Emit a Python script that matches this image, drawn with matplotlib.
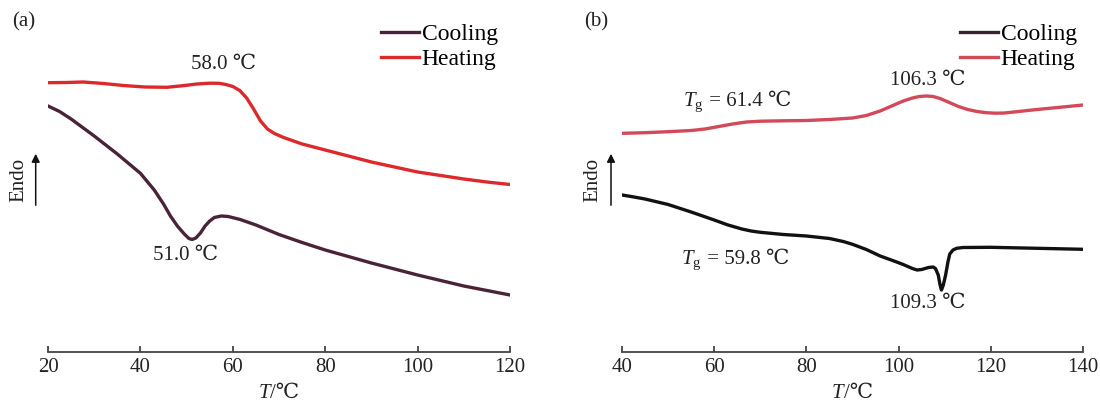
import matplotlib
matplotlib.use("Agg")
import matplotlib.pyplot as plt
from matplotlib.patches import FancyArrowPatch
from matplotlib.offsetbox import TextArea, HPacker, AnnotationBbox

plt.rcParams["font.family"] = ["Liberation Serif", "DejaVu Serif"]
plt.rcParams["mathtext.fontset"] = "custom"
plt.rcParams["mathtext.rm"] = "Liberation Serif"
plt.rcParams["mathtext.it"] = "Liberation Serif:italic"

# ---- (a) ----
a_heat_T = [20, 24, 27.6, 32, 36.3, 41, 45.7, 49, 52.2, 55, 57, 58.5, 60, 61.5,
            63, 64.5, 66, 67.5, 69, 71, 75, 80, 85, 90, 95, 100, 105, 110,
            115, 120]
a_heat_y = [317.3, 317.5, 318, 316.5, 314.5, 313, 312.7, 314.2, 316, 316.8,
            316.7, 315.5, 313.5, 309.5, 302, 291, 279, 271, 266.5, 262.5, 256,
            250, 244, 238, 233, 228, 224.5, 221, 218, 215.5]
a_cool_T = [20, 22.5, 25, 30, 35, 40, 43, 45, 46.5, 48, 49.5, 50.5, 51.2, 52,
            53, 54, 55, 56, 57.5, 59, 61.6, 65, 70, 75, 80, 85, 90, 95, 100,
            105, 110, 115, 120]
a_cool_y = [294, 288.5, 281, 264, 246, 226.7, 210, 196, 184, 174, 166, 161.5,
            160.5, 162, 167, 174, 179, 182.5, 184, 183.5, 180.5, 175, 165.5,
            157.5, 150, 143.5, 137, 131, 125, 119.5, 114, 109.5, 105]

# ---- (b) ----
b_heat_T = [40, 45, 50, 55, 58, 61, 64, 67, 70, 75, 80, 85, 90, 93, 96, 99,
            101, 103, 104.5, 106, 107.5, 109, 111, 113, 115, 117, 119, 121,
            123, 126, 130, 135, 140]
b_heat_y = [266.7, 267.3, 268.3, 269.5, 271, 273.5, 276, 278, 278.8, 279.2,
            279.5, 280.5, 282, 284.5, 289, 295, 299, 302, 303.5, 304, 303.5,
            301.5, 297.5, 293.5, 290.5, 288.5, 287.3, 286.8, 287, 288.5, 290.5,
            292.7, 295]
b_cool_T = [40, 42, 45, 50, 55, 60, 63, 66, 68, 70, 75, 80, 85, 88, 90, 93, 96,
            99, 101, 103, 104, 105, 106.5, 107.5, 108, 108.6, 109, 109.3,
            109.7, 110.2, 110.7, 111.1, 111.8, 112.6, 114, 120, 130, 140]
b_cool_y = [205, 203.5, 201, 195.5, 188, 180, 175, 171, 169, 167.7, 165.5, 164,
            161.5, 158.5, 155.7, 150.5, 144, 139, 135.5, 131.5, 130, 130.5,
            132.5, 133, 131.5, 125, 115, 110, 115, 125, 138, 146, 150, 151.7,
            152.5, 152.7, 151.7, 150.7]

xticks_a = [20, 40, 60, 80, 100, 120]
xticks_b = [40, 60, 80, 100, 120, 140]

TXT = "#222"
fig = plt.figure(figsize=(11, 4.01), dpi=100)
ax_a = fig.add_axes([48 / 1100, 1 - 352 / 401, 462 / 1100, 342 / 401])
ax_b = fig.add_axes([622 / 1100, 1 - 352 / 401, 461 / 1100, 342 / 401])


def mixed(ax, xy, parts, coords="data", size=15):
    # parts: list of (text, style); mathtext only in parts without ℃
    boxes = [TextArea(t, textprops=dict(fontsize=size, color=TXT, fontstyle=st))
             for t, st in parts]
    pack = HPacker(children=boxes, align="baseline", pad=0, sep=0)
    ab = AnnotationBbox(pack, xy, xycoords=coords, frameon=False,
                        box_alignment=(0.5, 0.5), pad=0)
    ax.add_artist(ab)


def style(ax, xlim, ticks):
    ax.set_xlim(*xlim)
    ax.set_ylim(48, 390)
    for s in ("top", "right", "left"):
        ax.spines[s].set_visible(False)
    ax.spines["bottom"].set_color("#444")
    ax.spines["bottom"].set_linewidth(1.3)
    ax.set_xticks(ticks)
    ax.set_yticks([])
    ax.tick_params(axis="x", direction="in", length=4, width=1.3, color="#444",
                   labelsize=15, pad=4, labelcolor=TXT)
    mixed(ax, (0.5, -41 / 342), [("T", "italic"), ("/℃", "normal")],
          coords="axes fraction")
    ax.patch.set_alpha(0)


def legend(ax, xr):
    ax.legend(loc="upper right", bbox_to_anchor=(xr, 0.995), frameon=False,
              fontsize=17, handlelength=1.6, handletextpad=0.12,
              labelspacing=0.15, borderaxespad=0.1)


ann = dict(ha="center", va="center", fontsize=15, color=TXT)

# (a)
ax_a.plot(a_cool_T, a_cool_y, color="#4a2338", lw=2.4, label="Cooling")
ax_a.plot(a_heat_T, a_heat_y, color="#dc2a2c", lw=2.4, label="Heating")
style(ax_a, (20, 120), xticks_a)
ax_a.text(58.1, 336, "58.0 ℃", **ann)
ax_a.text(49.7, 145, "51.0 ℃", **ann)
legend(ax_a, 0.999)

# (b)
ax_b.plot(b_cool_T, b_cool_y, color="#111111", lw=2.4)
ax_b.plot(b_heat_T, b_heat_y, color="#d24a5a", lw=2.4)
ax_b.plot([], [], color="#3a2030", lw=2.4, label="Cooling")
ax_b.plot([], [], color="#d24a5a", lw=2.4, label="Heating")
style(ax_b, (40, 140), xticks_b)
mixed(ax_b, (65, 298), [("$T_\\mathrm{g}$", "normal"), (" = 61.4 ℃", "normal")])
ax_b.text(106.4, 320, "106.3 ℃", **ann)
mixed(ax_b, (64.5, 140), [("$T_\\mathrm{g}$", "normal"), (" = 59.8 ℃", "normal")])
ax_b.text(106.4, 97, "109.3 ℃", **ann)
legend(ax_b, 1.012)

# Endo labels + arrows, panel letters
for tx, arx in [(18.5, 35.7), (593, 611)]:
    fig.text(tx / 1100, 1 - 180 / 401, "Endo", rotation=90, ha="center",
             va="center", fontsize=15, color=TXT)
    fig.patches.append(FancyArrowPatch(
        (arx / 1100, 1 - 208 / 401), (arx / 1100, 1 - 151 / 401),
        transform=fig.transFigure, arrowstyle="-|>", mutation_scale=12,
        color="#111", lw=1.1))
fig.text(12 / 1100, 1 - 22 / 401, "(a)", ha="left", va="center", fontsize=15, color=TXT)
fig.text(584 / 1100, 1 - 22 / 401, "(b)", ha="left", va="center", fontsize=15, color=TXT)

fig.savefig("out.png", dpi=100)
